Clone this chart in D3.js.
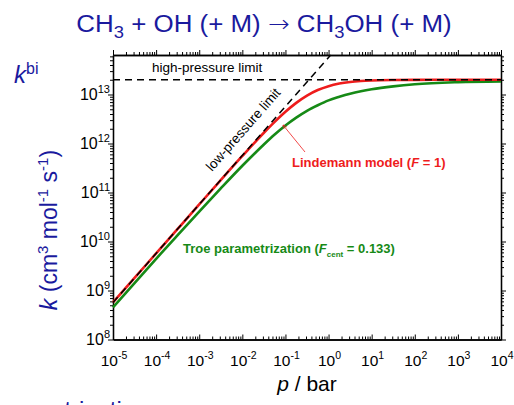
<!DOCTYPE html>
<html lang="en">
<head>
<meta charset="utf-8">
<title>CH3 + OH falloff</title>
<script src="https://d3js.org/d3.v7.min.js"></script>
<style>
  body { margin: 0; background: #fff; }
  text { font-family: "Liberation Sans", Arial, sans-serif; }
</style>
</head>
<body>
<script>
// pressures in bar, read at half / quarter decades
var pressures = [1e-5, 3.16e-5, 1e-4, 3.16e-4, 1e-3, 3.16e-3, 1e-2, 3.16e-2, 5.62e-2,
                 0.1, 0.178, 0.316, 0.562, 1, 1.78, 3.16, 5.62, 10, 31.6, 100, 1000, 1e4];

// Lindemann model (F = 1), cm3 mol-1 s-1
var lindemann = [5.71e8, 1.806e9, 5.71e9, 1.804e10, 5.70e10, 1.79e11, 5.56e11, 1.657e12, 2.77e12,
                 4.44e12, 6.74e12, 9.49e12, 1.233e13, 1.481e13, 1.671e13, 1.801e13, 1.883e13,
                 1.932e13, 1.978e13, 1.993e13, 2.0e13, 2.0e13];

// Troe parametrization (Fcent = 0.133)
var troe = [4.54e8, 1.419e9, 4.44e9, 1.352e10, 4.08e10, 1.211e11, 3.51e11, 9.53e11, 1.521e12,
            2.33e12, 3.38e12, 4.65e12, 6.04e12, 7.60e12, 8.97e12, 1.035e13, 1.161e13,
            1.276e13, 1.466e13, 1.62e13, 1.782e13, 1.845e13];

// limits
var lowP = [1e-5, 1.12];
var lowK = [5.71e8, 6.4e13];
var highP = [1e-5, 1e4];
var highK = [2e13, 2e13];

var xExps = [-5, -4, -3, -2, -1, 0, 1, 2, 3, 4];
var yExps = [8, 9, 10, 11, 12, 13];

var w = 514, h = 405;
var plot = {left: 113, right: 501, top: 55, bottom: 339.5};

var blue = "#1a1a9e";
var red = "#ee1c1c";
var green = "#168a16";

var svg = d3.select("body").append("svg")
  .attr("width", w).attr("height", h);

var xScale = d3.scaleLog().domain([1e-5, 1e4]).range([plot.left, plot.right]);
var yScale = d3.scaleLog().domain([1e8, 6.4e13]).range([plot.bottom, plot.top]);

// minor tick values
var xMinor = [];
xExps.slice(0, -1).forEach(function(e) {
  for (var m = 2; m <= 9; m++) xMinor.push(m * Math.pow(10, e));
});
var yMinor = [];
for (var e = 8; e <= 13; e++) {
  for (var m = 2; m <= 9; m++) {
    var v = m * Math.pow(10, e);
    if (v <= 6.4e13) yMinor.push(v);
  }
}
var xMajor = xExps.map(function(e) { return Math.pow(10, e); });
var yMajor = yExps.map(function(e) { return Math.pow(10, e); });

function drawAxis(axisFn, scale, vals, size, tx, ty) {
  svg.append("g")
    .attr("transform", "translate(" + tx + "," + ty + ")")
    .call(axisFn(scale).tickValues(vals).tickSize(size).tickSizeOuter(0).tickFormat(""))
    .call(function(g) {
      g.select(".domain").attr("stroke-width", 1.3);
      g.selectAll(".tick line").attr("stroke-width", 1);
    });
}

// bottom (ticks inward), top, left, right (outward)
drawAxis(d3.axisBottom, xScale, xMajor, -5, 0, plot.bottom);
drawAxis(d3.axisBottom, xScale, xMinor, -3, 0, plot.bottom);
drawAxis(d3.axisTop, xScale, xMajor, 5, 0, plot.top);
drawAxis(d3.axisTop, xScale, xMinor, 3, 0, plot.top);
drawAxis(d3.axisLeft, yScale, yMajor, 5, plot.left, 0);
drawAxis(d3.axisLeft, yScale, yMinor, 3, plot.left, 0);
drawAxis(d3.axisRight, yScale, yMajor, 5, plot.right, 0);
drawAxis(d3.axisRight, yScale, yMinor, 3, plot.right, 0);

// tick labels
xExps.forEach(function(e) {
  var t = svg.append("text")
    .attr("x", xScale(Math.pow(10, e)) + 1)
    .attr("y", 366)
    .attr("text-anchor", "middle")
    .attr("font-size", 15.5);
  t.append("tspan").text("10");
  t.append("tspan").attr("dy", -7).attr("font-size", 10.5).text(e);
});
yExps.forEach(function(e) {
  var t = svg.append("text")
    .attr("x", 110)
    .attr("y", yScale(Math.pow(10, e)) + 5)
    .attr("text-anchor", "end")
    .attr("font-size", 16);
  t.append("tspan").text("10");
  t.append("tspan").attr("dy", -7).attr("font-size", 11).text(e);
});

// curves
var line = d3.line()
  .x(function(d) { return xScale(d[0]); })
  .y(function(d) { return yScale(d[1]); })
  .curve(d3.curveMonotoneX);

svg.append("path")
  .datum(d3.zip(pressures, troe))
  .attr("d", line)
  .attr("fill", "none").attr("stroke", green).attr("stroke-width", 2.6);

svg.append("path")
  .datum(d3.zip(pressures, lindemann))
  .attr("d", line)
  .attr("fill", "none").attr("stroke", red).attr("stroke-width", 2.6);

var straight = d3.line()
  .x(function(d) { return xScale(d[0]); })
  .y(function(d) { return yScale(d[1]); });

svg.append("path")
  .datum(d3.zip(lowP, lowK))
  .attr("d", straight)
  .attr("fill", "none").attr("stroke", "#000").attr("stroke-width", 1.5)
  .attr("stroke-dasharray", "7,5");

svg.append("path")
  .datum(d3.zip(highP, highK))
  .attr("d", straight)
  .attr("fill", "none").attr("stroke", "#000").attr("stroke-width", 1.5)
  .attr("stroke-dasharray", "7,5");

// annotations
svg.append("text")
  .attr("x", 152).attr("y", 72)
  .attr("font-size", 13.5)
  .text("high-pressure limit");

svg.append("text")
  .attr("transform", "translate(212,172) rotate(-48.7)")
  .attr("font-size", 13.5)
  .text("low-pressure limit");

var lind = svg.append("text")
  .attr("x", 292).attr("y", 167)
  .attr("font-size", 13).attr("font-weight", "bold")
  .attr("fill", red);
lind.append("tspan").text("Lindemann model (");
lind.append("tspan").attr("font-style", "italic").text("F");
lind.append("tspan").text(" = 1)");

svg.append("defs").append("marker")
  .attr("id", "arrow")
  .attr("viewBox", "0 0 10 10")
  .attr("refX", 9).attr("refY", 5)
  .attr("markerWidth", 6).attr("markerHeight", 6)
  .attr("orient", "auto")
  .append("path").attr("d", "M0,1 L10,5 L0,9")
  .attr("fill", "none").attr("stroke", red).attr("stroke-width", 1.2);

svg.append("line")
  .attr("x1", 305).attr("y1", 152)
  .attr("x2", 283).attr("y2", 125)
  .attr("stroke", red).attr("stroke-width", 0.8)
  .attr("marker-end", "url(#arrow)");

var tr = svg.append("text")
  .attr("x", 183).attr("y", 253)
  .attr("font-size", 13).attr("font-weight", "bold")
  .attr("fill", green);
tr.append("tspan").text("Troe parametrization (");
tr.append("tspan").attr("font-style", "italic").text("F");
tr.append("tspan").attr("dy", 4).attr("font-size", 8).text("cent");
tr.append("tspan").attr("dy", -4).text(" = 0.133)");

// title
var title = svg.append("text")
  .attr("transform", "translate(264,32) scale(1.08,1)")
  .attr("text-anchor", "middle")
  .attr("font-size", 24)
  .attr("fill", blue);
title.append("tspan").text("CH");
title.append("tspan").attr("dy", 6).attr("font-size", 17).text("3");
title.append("tspan").attr("dy", -6).text(" + OH (+ M) ");
title.append("tspan").attr("font-family", "DejaVu Sans").attr("font-weight", 300).text("\u2192");
title.append("tspan").text(" CH");
title.append("tspan").attr("dy", 6).attr("font-size", 17).text("3");
title.append("tspan").attr("dy", -6).text("OH (+ M)");

// k^bi
var kbi = svg.append("text")
  .attr("x", 14).attr("y", 83)
  .attr("font-size", 24).attr("fill", blue);
kbi.append("tspan").attr("font-style", "italic").text("k");
kbi.append("tspan").attr("dy", -9).attr("font-size", 16).text("bi");

// y-axis title
var yl = svg.append("text")
  .attr("transform", "translate(57,230) rotate(-90)")
  .attr("text-anchor", "middle")
  .attr("font-size", 23).attr("fill", blue);
yl.append("tspan").attr("font-style", "italic").text("k");
yl.append("tspan").text(" (cm");
yl.append("tspan").attr("dy", -9).attr("font-size", 15).text("3");
yl.append("tspan").attr("dy", 9).text(" mol");
yl.append("tspan").attr("dy", -9).attr("font-size", 15).text("-1");
yl.append("tspan").attr("dy", 9).text(" s");
yl.append("tspan").attr("dy", -9).attr("font-size", 15).text("-1");
yl.append("tspan").attr("dy", 9).text(")");

// x-axis title
var xl = svg.append("text")
  .attr("x", 307).attr("y", 391)
  .attr("text-anchor", "middle")
  .attr("font-size", 21);
xl.append("tspan").attr("font-style", "italic").text("p");
xl.append("tspan").text(" / bar");

// clipped text at the bottom edge of the slide
svg.append("text")
  .attr("x", -17).attr("y", 418)
  .attr("font-size", 24).attr("fill", blue)
  .text("parametrization");
</script>
</body>
</html>
